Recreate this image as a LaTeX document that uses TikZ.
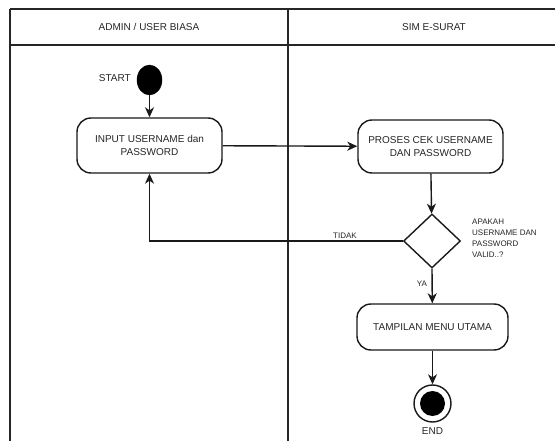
\documentclass[tikz,border=0pt]{standalone}
\usepackage{fontspec}
\setmainfont{Liberation Sans}
\usetikzlibrary{shapes.geometric,arrows.meta}
\begin{document}
\begin{tikzpicture}[x=1pt,y=-1pt,
  frameline/.style={line width=1.6pt, draw=black!85},
  flow/.style={line width=1.4pt, draw=black!90, -{Stealth[length=10pt,width=9pt,inset=3pt]}},
  actbox/.style={draw=black!90, line width=1.4pt, rounded corners=14pt, align=center,
    font=\fontsize{10}{13}\selectfont, text=black!85, inner sep=0pt},
  lbl/.style={font=\fontsize{10}{12}\selectfont, text=black!85, inner sep=0pt},
  small/.style={font=\fontsize{8}{11}\selectfont, text=black!85, inner sep=0pt}]
\useasboundingbox (0,0) rectangle (555,441);
\fill[white] (0,0) rectangle (555,441);
% swimlane frame
\coordinate (tl) at (10,9);
\coordinate (tr) at (555,9);
\coordinate (hl) at (10,45);
\coordinate (hr) at (555,45);
\coordinate (bl) at (10,441);
\coordinate (dt) at (288,9);
\coordinate (db) at (288,441);
\draw[frameline] (tl) -- (tr);
\draw[frameline] (hl) -- (hr);
\draw[frameline] (tl) -- (bl);
\draw[frameline] (dt) -- (db);
\node[lbl] (lane1) at (149,27) {ADMIN / USER BIASA};
\node[lbl] (lane2) at (434,27) {SIM E-SURAT};
% nodes
\node[ellipse, fill=black, draw=black, minimum width=25pt, minimum height=30pt, inner sep=0pt] (start) at (149.5,80) {};
\node[lbl, anchor=east] (startlbl) at (131,78) {START};
\node[actbox, minimum width=145pt, minimum height=55pt] (input) at (149.5,145.5) {INPUT USERNAME dan\\PASSWORD};
\node[actbox, minimum width=145pt, minimum height=53pt] (proses) at (430.5,146.5) {PROSES CEK USERNAME\\DAN PASSWORD};
\node[diamond, draw=black!90, line width=1.4pt, minimum width=57pt, minimum height=54pt, inner sep=0pt] (dia) at (432,241) {};
\node[small, anchor=north west, align=left] (q) at (472,219) {APAKAH\\USERNAME DAN\\PASSWORD\\VALID..?};
\node[actbox, minimum width=151pt, minimum height=46pt] (tampil) at (432.5,327) {TAMPILAN MENU UTAMA};
\node[circle, draw=black!90, line width=1.4pt, minimum size=37pt, inner sep=0pt] (end) at (432.5,403.5) {};
\node[circle, fill=black, minimum size=25pt, inner sep=0pt] (endin) at (end.center) {};
\node[lbl] (endlbl) at (432.5,431) {END};
% connectors
\draw[flow] (start) -- (input);
\draw[flow] (input) -- (proses);
\draw[flow] (proses) -- (dia);
\draw[flow] (dia.west) -| (input.south);
\draw[flow] (dia.south) -- (tampil);
\draw[flow] (tampil) -- (end);
\node[small] (tidak) at (345,236) {TIDAK};
\node[small] (ya) at (422,284) {YA};
\end{tikzpicture}
\end{document}
